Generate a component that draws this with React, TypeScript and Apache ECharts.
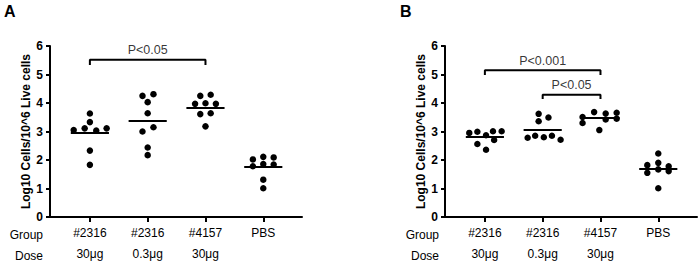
import React, { useEffect, useRef } from "react";
import * as echarts from "echarts";

const groups = ["#2316", "#2316", "#4157", "PBS"];
const doses = ["30μg", "0.3μg", "30μg", ""];
const yTitle = "Log10 Cells/10^6 Live cells";

// Panel A
const aG1 = [3.63, 3.33, 3.05, 3.11, 3.03, 3.11, 2.33, 1.83];
const aG2 = [4.25, 4.31, 4.03, 3.64, 3.0, 3.15, 2.44, 2.17];
const aG3 = [4.25, 4.29, 3.97, 3.99, 3.97, 3.61, 3.64, 3.18];
const aG4 = [2.02, 2.11, 2.09, 1.78, 1.86, 1.84, 1.31, 1.01];
const aOff1 = [0, 0, -0.28, -0.09, 0.11, 0.29, 0, 0];
const aOff2 = [-0.09, 0.1, 0, 0, -0.09, 0.1, 0, 0];
const aOff3 = [-0.09, 0.09, -0.18, 0, 0.18, -0.09, 0.09, 0];
const aOff4 = [-0.18, 0, 0.18, -0.18, 0, 0.18, 0, 0];
const aMeans = [2.95, 3.37, 3.85, 1.76];
const aBrackets = [{ from: 1, to: 3, top: 5.52, foot: 5.33, label: "P<0.05" }];

// Panel B
const bG1 = [2.95, 2.99, 2.87, 3.01, 3.01, 2.56, 2.7, 2.36];
const bG2 = [3.62, 3.36, 3.49, 2.78, 2.85, 2.8, 2.85, 2.71];
const bG3 = [3.51, 3.3, 3.68, 3.63, 3.42, 3.66, 3.45, 3.05];
const bG4 = [2.23, 1.82, 1.9, 1.78, 1.55, 1.67, 1.61, 1.01];
const bOff1 = [-0.27, -0.13, 0.02, 0.14, 0.29, -0.13, 0.16, 0.02];
const bOff2 = [-0.07, -0.07, 0.1, -0.26, -0.13, 0.02, 0.16, 0.31];
const bOff3 = [-0.31, -0.31, -0.11, 0.09, 0.09, 0.28, 0.28, -0.02];
const bOff4 = [0, -0.19, 0, 0.18, -0.19, 0, 0.18, 0];
const bMeans = [2.8, 3.07, 3.47, 1.71];
const bBrackets = [
  { from: 1, to: 3, top: 5.15, foot: 4.98, label: "P<0.001" },
  { from: 2, to: 3, top: 4.29, foot: 4.14, label: "P<0.05" },
];

const FONT = "'Liberation Sans', Arial, sans-serif";
const BLACK = "#000";
const MEAN_HALF = 0.33;

function panelSeries(
  gi: number,
  values: number[][],
  offsets: number[][],
  means: number[],
  brackets: { from: number; to: number; top: number; foot: number; label: string }[]
) {
  const series: any[] = [];
  values.forEach((vals, g) => {
    series.push({
      type: "scatter",
      xAxisIndex: gi,
      yAxisIndex: gi,
      symbol: "circle",
      symbolSize: 6.5,
      itemStyle: { color: BLACK, opacity: 1 },
      data: vals.map((v, j) => [g + 1 + offsets[g][j], v]),
      markLine: {
        silent: true,
        symbol: ["none", "none"],
        label: { show: false },
        lineStyle: { color: BLACK, width: 2, type: "solid", opacity: 1 },
        data: [[{ coord: [g + 1 - MEAN_HALF, means[g]] }, { coord: [g + 1 + MEAN_HALF, means[g]] }]],
      },
    });
  });
  brackets.forEach((b) => {
    series.push({
      type: "line",
      xAxisIndex: gi,
      yAxisIndex: gi,
      symbol: "none",
      lineStyle: { color: BLACK, width: 2 },
      data: [
        [b.from, b.foot],
        [b.from, b.top],
        [b.to, b.top],
        [b.to, b.foot],
      ],
    });
    series.push({
      type: "scatter",
      xAxisIndex: gi,
      yAxisIndex: gi,
      symbolSize: 0,
      data: [[(b.from + b.to) / 2, b.top]],
      label: {
        show: true,
        position: "top",
        distance: 3,
        formatter: b.label,
        color: BLACK,
        fontSize: 12.5,
        fontFamily: FONT,
      },
    });
  });
  return series;
}

function xAxisCfg(gi: number) {
  return {
    type: "value",
    gridIndex: gi,
    min: 0.31,
    max: 4.67,
    splitLine: { show: false },
    axisLine: { show: true, onZero: false, lineStyle: { color: BLACK, width: 2 } },
    axisTick: { show: true, customValues: [1, 2, 3, 4], length: 5, lineStyle: { color: BLACK, width: 2 } },
    axisLabel: {
      customValues: [1, 2, 3, 4],
      formatter: (v: number) => groups[v - 1] + "\n" + (doses[v - 1] || " "),
      lineHeight: 21,
      fontSize: 12,
      color: BLACK,
      margin: 5,
      fontFamily: FONT,
    },
  };
}

function yAxisCfg(gi: number) {
  return {
    type: "value",
    gridIndex: gi,
    min: 0,
    max: 6,
    interval: 1,
    splitLine: { show: false },
    axisLine: { show: true, lineStyle: { color: BLACK, width: 2 } },
    axisTick: { show: true, length: 4, lineStyle: { color: BLACK, width: 2 } },
    axisLabel: { fontWeight: "bold", fontSize: 12, color: BLACK, margin: 7, fontFamily: FONT },
    name: yTitle,
    nameLocation: "middle",
    nameGap: 15,
    nameTextStyle: { fontWeight: "bold", fontSize: 12, color: BLACK, fontFamily: FONT },
  };
}

function rowLabel(x: number, y: number, text: string) {
  return {
    type: "text",
    x,
    y,
    style: { text, fill: BLACK, font: `12px ${FONT}`, textAlign: "right", textVerticalAlign: "middle" },
  };
}

export default function App() {
  const ref = useRef<HTMLDivElement>(null);
  useEffect(() => {
    if (!ref.current) return;
    const chart = echarts.init(ref.current, undefined, { renderer: "svg" });
    chart.setOption({
      animation: false,
      textStyle: { fontFamily: FONT },
      grid: [
        { left: 50, top: 46, width: 252, height: 174 },
        { left: 445, top: 46, width: 252, height: 174 },
      ],
      xAxis: [xAxisCfg(0), xAxisCfg(1)],
      yAxis: [yAxisCfg(0), yAxisCfg(1)],
      graphic: [
        { type: "text", x: 4, y: 3, style: { text: "A", fill: BLACK, font: `bold 16px ${FONT}` } },
        { type: "text", x: 400, y: 3, style: { text: "B", fill: BLACK, font: `bold 16px ${FONT}` } },
        rowLabel(43, 235, "Group"),
        rowLabel(43, 256, "Dose"),
        rowLabel(439, 235, "Group"),
        rowLabel(439, 256, "Dose"),
      ],
      series: [
        ...panelSeries(0, [aG1, aG2, aG3, aG4], [aOff1, aOff2, aOff3, aOff4], aMeans, aBrackets),
        ...panelSeries(1, [bG1, bG2, bG3, bG4], [bOff1, bOff2, bOff3, bOff4], bMeans, bBrackets),
      ],
    });
    return () => chart.dispose();
  }, []);
  return (
    <div
      ref={ref}
      style={{ position: "fixed", left: 0, top: 0, width: 700, height: 264, background: "#fff" }}
    />
  );
}
